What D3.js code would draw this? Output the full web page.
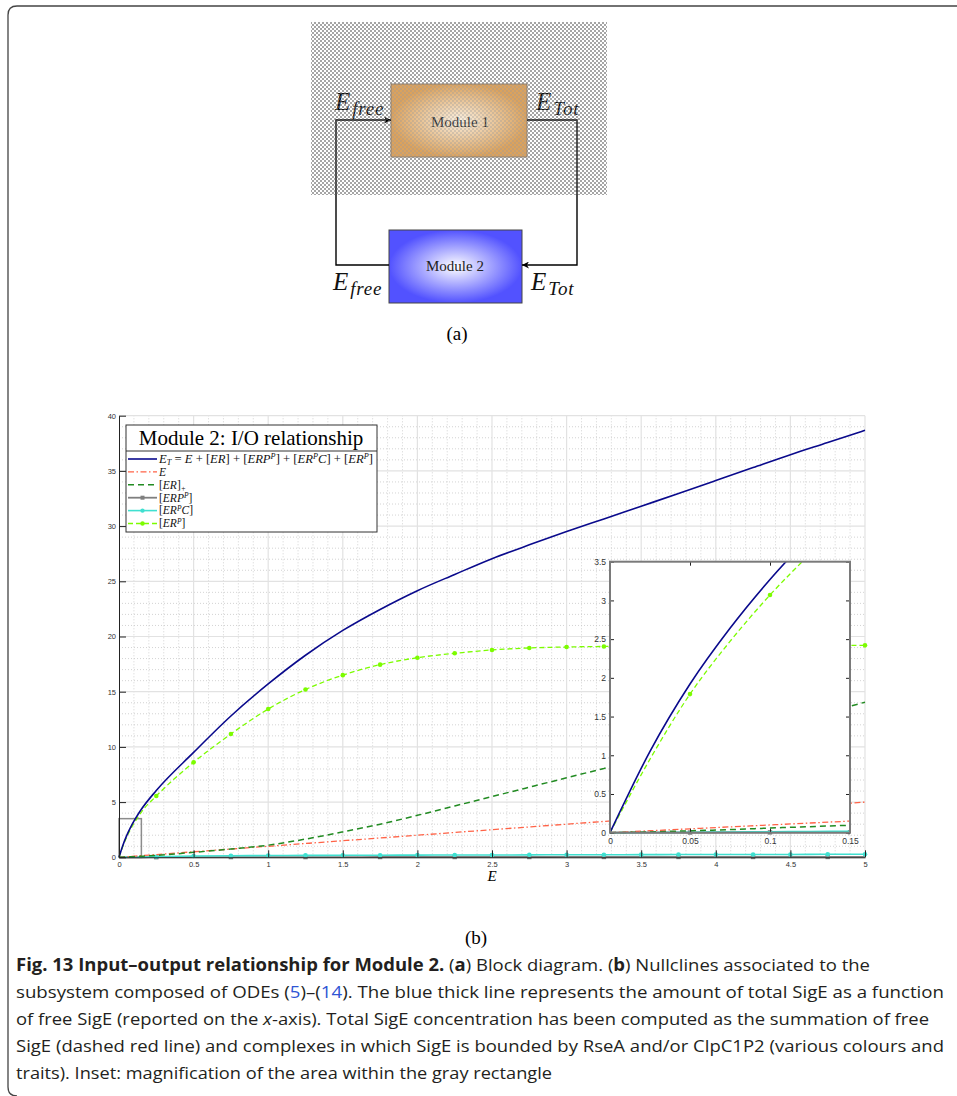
<!DOCTYPE html>
<html lang="en">

<head>
    <meta charset="UTF-8">
    <title>Module 2 I/O relationship</title>
    <script src="https://cdn.jsdelivr.net/npm/d3@7"></script>
    <style>
        * {
            margin: 0;
        }

        body {
            background: #fff;
        }
    </style>
</head>

<body>
    <script>
        // free SigE (x-axis) sample points
        const xs = [0, 0.025, 0.05, 0.075, 0.1, 0.125, 0.15, 0.25, 0.5, 0.75, 1, 1.25, 1.5, 1.75, 2, 2.25, 2.5, 2.75, 3, 3.25, 3.5, 3.75, 4, 4.25, 4.5, 4.75, 5];
        // E_T total
        const eTot = [0, 1.05, 1.92, 2.64, 3.27, 3.83, 4.35, 6.05, 9.5, 12.8, 15.7, 18.3, 20.55, 22.45, 24.15, 25.62, 27.05, 28.3, 29.5, 30.65, 31.8, 32.95, 34.12, 35.3, 36.47, 37.57, 38.68];
        // E free (red dash-dot)
        const eFree = [0, 0.025, 0.05, 0.075, 0.1, 0.125, 0.15, 0.25, 0.5, 0.75, 1, 1.25, 1.5, 1.75, 2, 2.25, 2.5, 2.75, 3, 3.25, 3.5, 3.75, 4, 4.25, 4.5, 4.75, 5];
        // [ER]+
        const er = [0, 0.01, 0.025, 0.04, 0.06, 0.078, 0.096, 0.17, 0.45, 0.75, 1.1, 1.65, 2.3, 3.0, 3.8, 4.65, 5.5, 6.35, 7.2, 8.05, 8.9, 9.75, 10.6, 11.45, 12.3, 13.15, 14.05];
        // [ERP^P]
        const erpp = [0, 0.001, 0.002, 0.003, 0.004, 0.005, 0.006, 0.01, 0.015, 0.02, 0.02, 0.02, 0.02, 0.025, 0.025, 0.025, 0.025, 0.025, 0.03, 0.03, 0.03, 0.03, 0.03, 0.03, 0.03, 0.03, 0.03];
        // [ER^PC]
        const erpc = [0, 0.003, 0.006, 0.009, 0.012, 0.015, 0.018, 0.05, 0.12, 0.14, 0.16, 0.17, 0.18, 0.19, 0.2, 0.21, 0.21, 0.22, 0.23, 0.23, 0.24, 0.25, 0.25, 0.26, 0.26, 0.27, 0.27];
        // [ER^P]
        const erp = [0, 0.95, 1.79, 2.47, 3.07, 3.6, 4.1, 5.55, 8.6, 11.17, 13.43, 15.2, 16.5, 17.45, 18.08, 18.48, 18.78, 18.96, 19.05, 19.1, 19.13, 19.15, 19.17, 19.18, 19.19, 19.2, 19.2];

        // marker positions (x values) for the marked series
        const quarterMarks = [0.25, 0.5, 0.75, 1, 1.25, 1.5, 1.75, 2, 2.25, 2.5, 2.75, 3, 3.25, 3.5, 3.75, 4, 4.25, 4.5, 4.75, 5];
        const oddQuarterMarks = [0.25, 0.75, 1.25, 1.75, 2.25, 2.75, 3.25, 3.75, 4.25, 4.75];
        const insetErpMarks = [0.05, 0.1];
        const insetErppMarks = [0.05, 0.1, 0.15];

        const xTicks = [0, 0.5, 1, 1.5, 2, 2.5, 3, 3.5, 4, 4.5, 5];
        const yTicks = [0, 5, 10, 15, 20, 25, 30, 35, 40];
        const insetXTicks = [0, 0.05, 0.1, 0.15];
        const insetYTicks = [0, 0.5, 1, 1.5, 2, 2.5, 3, 3.5];

        const serif = '"Liberation Serif", "DejaVu Serif", serif';
        const sans = '"Liberation Sans", Arial, sans-serif';

        var svg = d3.select('body').append('svg')
            .attr('width', 957).attr('height', 1096)
            .style('display', 'block');

        var defs = svg.append('defs');

        // ---------- patterns / gradients for block diagram ----------
        var chk = defs.append('pattern').attr('id', 'chk')
            .attr('width', 4).attr('height', 4).attr('patternUnits', 'userSpaceOnUse');
        chk.append('rect').attr('width', 4).attr('height', 4).attr('fill', '#fff');
        chk.append('rect').attr('width', 2).attr('height', 2).attr('fill', '#ababab');
        chk.append('rect').attr('x', 2).attr('y', 2).attr('width', 2).attr('height', 2).attr('fill', '#ababab');

        var chk2 = defs.append('pattern').attr('id', 'chk2')
            .attr('width', 4).attr('height', 4).attr('patternUnits', 'userSpaceOnUse');
        chk2.append('rect').attr('width', 2).attr('height', 2).attr('fill', '#9a9a9a');
        chk2.append('rect').attr('x', 2).attr('y', 2).attr('width', 2).attr('height', 2).attr('fill', '#9a9a9a');

        var g1 = defs.append('radialGradient').attr('id', 'mod1');
        g1.append('stop').attr('offset', '0%').attr('stop-color', '#fbf0e0');
        g1.append('stop').attr('offset', '100%').attr('stop-color', '#dca25c');

        var g2 = defs.append('radialGradient').attr('id', 'mod2');
        g2.append('stop').attr('offset', '0%').attr('stop-color', '#ffffff');
        g2.append('stop').attr('offset', '100%').attr('stop-color', '#5252ff');

        defs.append('marker').attr('id', 'arrow')
            .attr('viewBox', '0 0 10 10').attr('refX', 10).attr('refY', 5)
            .attr('markerWidth', 7).attr('markerHeight', 7)
            .attr('markerUnits', 'userSpaceOnUse').attr('orient', 'auto')
            .append('path').attr('d', 'M0,0 L10,5 L0,10 L3,5 Z').attr('fill', '#000');

        // ---------- outer frame ----------
        svg.append('path')
            .attr('d', 'M957,6 L17,6 Q8,6 8,15 L8,1087 Q8,1096 17,1096')
            .attr('fill', 'none').attr('stroke', '#444').attr('stroke-width', 1.3);

        // ---------- (a) block diagram ----------
        var diag = svg.append('g');
        diag.append('rect').attr('x', 311).attr('y', 22).attr('width', 296).attr('height', 173)
            .attr('fill', 'url(#chk)');

        diag.append('rect').attr('x', 391).attr('y', 84).attr('width', 136).attr('height', 73)
            .attr('fill', 'url(#mod1)').attr('stroke', '#8a7a6a').attr('stroke-width', 1);
        diag.append('text').attr('x', 460).attr('y', 127).attr('text-anchor', 'middle')
            .attr('font-family', serif).attr('font-size', 15).attr('fill', '#333').text('Module 1');

        diag.append('rect').attr('x', 389).attr('y', 230).attr('width', 133).attr('height', 73)
            .attr('fill', 'url(#mod2)').attr('stroke', '#444').attr('stroke-width', 1);
        diag.append('text').attr('x', 455).attr('y', 271).attr('text-anchor', 'middle')
            .attr('font-family', serif).attr('font-size', 15).attr('fill', '#222').text('Module 2');

        // feedback loop arrows
        diag.append('path').attr('d', 'M389,265 L336,265 L336,120 L391,120')
            .attr('fill', 'none').attr('stroke', '#000').attr('stroke-width', 1.4)
            .attr('marker-end', 'url(#arrow)');
        diag.append('path').attr('d', 'M527,120 L577,120 L577,265 L522,265')
            .attr('fill', 'none').attr('stroke', '#000').attr('stroke-width', 1.4)
            .attr('marker-end', 'url(#arrow)');

        function eLabel(x, y, sub) {
            var t = diag.append('text').attr('x', x).attr('y', y)
                .attr('font-family', serif).attr('font-style', 'italic').attr('fill', '#111');
            t.append('tspan').attr('font-size', 25).text('E');
            t.append('tspan').attr('font-size', 19).attr('dx', 2).attr('dy', 5)
                .attr('letter-spacing', 0.8).text(sub);
        }
        eLabel(335, 110, 'free');
        eLabel(536, 110, 'Tot');
        eLabel(333, 290, 'free');
        eLabel(531, 290, 'Tot');

        // light checker veil over upper area (as in the original picture)
        diag.append('rect').attr('x', 311).attr('y', 22).attr('width', 296).attr('height', 173)
            .attr('fill', 'url(#chk2)').attr('opacity', 0.35);

        svg.append('text').attr('x', 457).attr('y', 340).attr('text-anchor', 'middle')
            .attr('font-family', serif).attr('font-size', 19).text('(a)');

        // ---------- (b) main plot ----------
        var x = d3.scaleLinear().domain([0, 5]).range([119, 865]);
        var y = d3.scaleLinear().domain([0, 40]).range([857.3, 415.7]);

        var grid = svg.append('g');
        // minor grid
        d3.range(1, 50).filter(i => i % 5 != 0).forEach(i => {
            grid.append('line').attr('x1', x(i / 10)).attr('x2', x(i / 10))
                .attr('y1', y(0)).attr('y2', y(40))
                .attr('stroke', '#c8c8c8').attr('stroke-width', 0.8).attr('stroke-dasharray', '1,2');
        });
        d3.range(1, 40).filter(i => i % 5 != 0).forEach(i => {
            grid.append('line').attr('y1', y(i)).attr('y2', y(i))
                .attr('x1', x(0)).attr('x2', x(5))
                .attr('stroke', '#c8c8c8').attr('stroke-width', 0.8).attr('stroke-dasharray', '1,2');
        });
        // major grid
        xTicks.slice(1).forEach(v => {
            grid.append('line').attr('x1', x(v)).attr('x2', x(v)).attr('y1', y(0)).attr('y2', y(40))
                .attr('stroke', '#e2e2e2').attr('stroke-width', 1.2);
        });
        yTicks.slice(1).forEach(v => {
            grid.append('line').attr('y1', y(v)).attr('y2', y(v)).attr('x1', x(0)).attr('x2', x(5))
                .attr('stroke', '#e2e2e2').attr('stroke-width', 1.2);
        });

        // series table
        function pts(ys) {
            return xs.map((v, i) => [v, ys[i]]);
        }
        var series = [
            { key: 'erpp', data: pts(erpp), color: '#7f7f7f', width: 1.8, dash: null, mark: 'square', marks: oddQuarterMarks, insetMarks: insetErppMarks },
            { key: 'erpc', data: pts(erpc), color: '#40e0d0', width: 1.6, dash: null, mark: 'circle', marks: quarterMarks, insetMarks: [] },
            { key: 'e', data: pts(eFree), color: '#ff6347', width: 1.3, dash: '6,2.5,1.5,2.5', mark: null },
            { key: 'er', data: pts(er), color: '#228b22', width: 1.5, dash: '6,4', mark: null },
            { key: 'erp', data: pts(erp), color: '#7cfc00', width: 1.3, dash: '5,3', mark: 'circle', marks: quarterMarks, insetMarks: insetErpMarks },
            { key: 'et', data: pts(eTot), color: '#0a0a8c', width: 1.6, dash: null, mark: null }
        ];

        function drawSeries(g, sx, sy, useInsetMarks) {
            var line = d3.line().x(d => sx(d[0])).y(d => sy(d[1])).curve(d3.curveMonotoneX);
            series.forEach(s => {
                g.append('path').datum(s.data).attr('d', line)
                    .attr('fill', 'none').attr('stroke', s.color).attr('stroke-width', s.width)
                    .attr('stroke-dasharray', s.dash);
                if (!s.mark) return;
                var mx = useInsetMarks ? s.insetMarks : s.marks;
                var md = s.data.filter(d => mx.indexOf(d[0]) >= 0);
                if (s.mark == 'circle') {
                    g.selectAll(null).data(md).enter().append('circle')
                        .attr('cx', d => sx(d[0])).attr('cy', d => sy(d[1])).attr('r', 2.3)
                        .attr('fill', s.color);
                } else {
                    g.selectAll(null).data(md).enter().append('rect')
                        .attr('x', d => sx(d[0]) - 2.2).attr('y', d => sy(d[1]) - 2.2)
                        .attr('width', 4.4).attr('height', 4.4)
                        .attr('fill', s.color);
                }
            });
        }

        defs.append('clipPath').attr('id', 'mainClip').append('rect')
            .attr('x', x(0) - 4).attr('y', y(40)).attr('width', x(5) - x(0) + 8).attr('height', y(0) - y(40) + 5);

        // zoom rectangle (area magnified in inset)
        svg.append('rect').attr('x', x(0)).attr('y', y(3.5))
            .attr('width', x(0.15) - x(0)).attr('height', y(0) - y(3.5))
            .attr('fill', 'none').attr('stroke', '#8c8c8c').attr('stroke-width', 1.5);

        var mainG = svg.append('g').attr('clip-path', 'url(#mainClip)');
        drawSeries(mainG, x, y, false);

        // axes
        var yAxis = svg.append('g').attr('transform', `translate(${x(0)},0)`)
            .call(d3.axisLeft(y).tickValues(yTicks).tickSize(-7).tickSizeOuter(0).tickPadding(3));
        var xAxis = svg.append('g').attr('transform', `translate(0,${y(0)})`)
            .call(d3.axisBottom(x).tickValues(xTicks).tickSize(-7).tickSizeOuter(0).tickPadding(4)
                .tickFormat(d3.format('~g')));
        [yAxis, xAxis].forEach(a => {
            a.selectAll('text').attr('font-family', sans).attr('font-size', 7.5).attr('fill', '#333');
            a.selectAll('line').attr('stroke', '#222');
            a.select('.domain').attr('stroke', '#222');
        });

        svg.append('text').attr('x', 492).attr('y', 881).attr('text-anchor', 'middle')
            .attr('font-family', serif).attr('font-style', 'italic').attr('font-size', 15).text('E');

        // ---------- inset ----------
        var ix = d3.scaleLinear().domain([0, 0.15]).range([610, 850]);
        var iy = d3.scaleLinear().domain([0, 3.5]).range([832.7, 561.7]);

        svg.append('rect').attr('x', ix(0)).attr('y', iy(3.5))
            .attr('width', ix(0.15) - ix(0)).attr('height', iy(0) - iy(3.5)).attr('fill', '#fff');

        defs.append('clipPath').attr('id', 'insetClip').append('rect')
            .attr('x', ix(0)).attr('y', iy(3.5)).attr('width', ix(0.15) - ix(0)).attr('height', iy(0) - iy(3.5) + 3);
        var insetG = svg.append('g').attr('clip-path', 'url(#insetClip)');
        drawSeries(insetG, ix, iy, true);

        var ia = [
            svg.append('g').attr('transform', `translate(${ix(0)},0)`)
                .call(d3.axisLeft(iy).tickValues(insetYTicks).tickSize(-4).tickSizeOuter(0).tickPadding(4).tickFormat(d3.format('~g'))),
            svg.append('g').attr('transform', `translate(0,${iy(0)})`)
                .call(d3.axisBottom(ix).tickValues(insetXTicks).tickSize(-4).tickSizeOuter(0).tickPadding(5).tickFormat(d3.format('~g'))),
            svg.append('g').attr('transform', `translate(${ix(0.15)},0)`)
                .call(d3.axisRight(iy).tickValues(insetYTicks).tickSize(-4).tickSizeOuter(0).tickFormat('')),
            svg.append('g').attr('transform', `translate(0,${iy(3.5)})`)
                .call(d3.axisTop(ix).tickValues(insetXTicks).tickSize(-4).tickSizeOuter(0).tickFormat(''))
        ];
        ia.forEach(a => {
            a.selectAll('text').attr('font-family', sans).attr('font-size', 8.5).attr('fill', '#333');
            a.selectAll('line').attr('stroke', '#222');
            a.select('.domain').attr('stroke', 'none');
        });
        svg.append('rect').attr('x', ix(0)).attr('y', iy(3.5))
            .attr('width', ix(0.15) - ix(0)).attr('height', iy(0) - iy(3.5))
            .attr('fill', 'none').attr('stroke', '#7a7a7a').attr('stroke-width', 2);

        // ---------- legend ----------
        var leg = svg.append('g');
        leg.append('rect').attr('x', 126).attr('y', 425).attr('width', 251).attr('height', 107)
            .attr('fill', '#fff').attr('stroke', '#333').attr('stroke-width', 1);
        leg.append('line').attr('x1', 126).attr('x2', 377).attr('y1', 451).attr('y2', 451)
            .attr('stroke', '#333').attr('stroke-width', 1);
        leg.append('text').attr('x', 251).attr('y', 445).attr('text-anchor', 'middle')
            .attr('font-family', serif).attr('font-size', 21).text('Module 2: I/O relationship');

        // label pieces: [text, kind] kind: i italic, n normal, sup, sub
        const legendLabels = [
            [['E', 'i'], ['T', 'sub'], [' = ', 'n'], ['E', 'i'], [' + [', 'n'], ['ER', 'i'], ['] + [', 'n'], ['ERP', 'i'], ['P', 'sup'], ['] + [', 'n'], ['ER', 'i'], ['P', 'sup'], ['C', 'i'], ['] + [', 'n'], ['ER', 'i'], ['P', 'sup'], [']', 'n']],
            [['E', 'i']],
            [['[', 'n'], ['ER', 'i'], [']', 'n'], ['+', 'sub']],
            [['[', 'n'], ['ERP', 'i'], ['P', 'sup'], [']', 'n']],
            [['[', 'n'], ['ER', 'i'], ['P', 'sup'], ['C', 'i'], [']', 'n']],
            [['[', 'n'], ['ER', 'i'], ['P', 'sup'], [']', 'n']]
        ];
        const legendOrder = ['et', 'e', 'er', 'erpp', 'erpc', 'erp'];

        legendOrder.forEach((k, i) => {
            var s = series.find(d => d.key == k);
            var cy = 459 + i * 12.9;
            leg.append('line').attr('x1', 128).attr('x2', 157).attr('y1', cy).attr('y2', cy)
                .attr('stroke', s.color).attr('stroke-width', s.width).attr('stroke-dasharray', s.dash);
            if (s.mark == 'circle') {
                leg.append('circle').attr('cx', 142.5).attr('cy', cy).attr('r', 2.2).attr('fill', s.color);
            } else if (s.mark == 'square') {
                leg.append('rect').attr('x', 140.5).attr('y', cy - 2).attr('width', 4).attr('height', 4).attr('fill', s.color);
            }
            var t = leg.append('text').attr('x', 159).attr('y', cy + 3.8)
                .attr('font-family', serif).attr('font-size', 11.5).attr('fill', '#111');
            if (i == 0) t.attr('textLength', 214).attr('lengthAdjust', 'spacingAndGlyphs');
            var shift = 0;
            legendLabels[i].forEach(p => {
                var ts = t.append('tspan').text(p[0]);
                var target = p[1] == 'sup' ? -3.5 : p[1] == 'sub' ? 2 : 0;
                if (target != shift) ts.attr('dy', target - shift);
                shift = target;
                if (p[1] != 'n') ts.attr('font-style', 'italic');
                if (p[1] == 'sup' || p[1] == 'sub') ts.attr('font-size', 7.5);
            });
        });

        svg.append('text').attr('x', 476).attr('y', 944).attr('text-anchor', 'middle')
            .attr('font-family', serif).attr('font-size', 19).text('(b)');

        // ---------- caption ----------
        const captionLines = [
            [['Fig. 13  Input–output relationship for Module 2.', 'b'], [' (', 'n'], ['a', 'b'], [') Block diagram. (', 'n'], ['b', 'b'], [') Nullclines associated to the', 'n']],
            [['subsystem composed of ODEs (', 'n'], ['5', 'l'], [')–(', 'n'], ['14', 'l'], ['). The blue thick line represents the amount of total SigE as a function', 'n']],
            [['of free SigE (reported on the ', 'n'], ['x', 'i'], ['-axis). Total SigE concentration has been computed as the summation of free', 'n']],
            [['SigE (dashed red line) and complexes in which SigE is bounded by RseA and/or ClpC1P2 (various colours and', 'n']],
            [['traits). Inset: magnification of the area within the gray rectangle', 'n']]
        ];
        const captionEnds = [870, 944, 929, 944, 552];

        captionLines.forEach((line, i) => {
            var t = svg.append('text').attr('x', 16).attr('y', 971 + i * 27)
                .attr('font-family', '"Open Sans", "Noto Sans", sans-serif').attr('font-size', 17)
                .attr('fill', '#231f20')
                .attr('textLength', captionEnds[i] - 16).attr('lengthAdjust', 'spacingAndGlyphs');
            line.forEach(p => {
                var ts = t.append('tspan').text(p[0]);
                if (p[1] == 'b') ts.attr('font-weight', 'bold');
                if (p[1] == 'i') ts.attr('font-style', 'italic');
                if (p[1] == 'l') ts.attr('fill', '#2f55d4');
            });
        });
    </script>
</body>

</html>
